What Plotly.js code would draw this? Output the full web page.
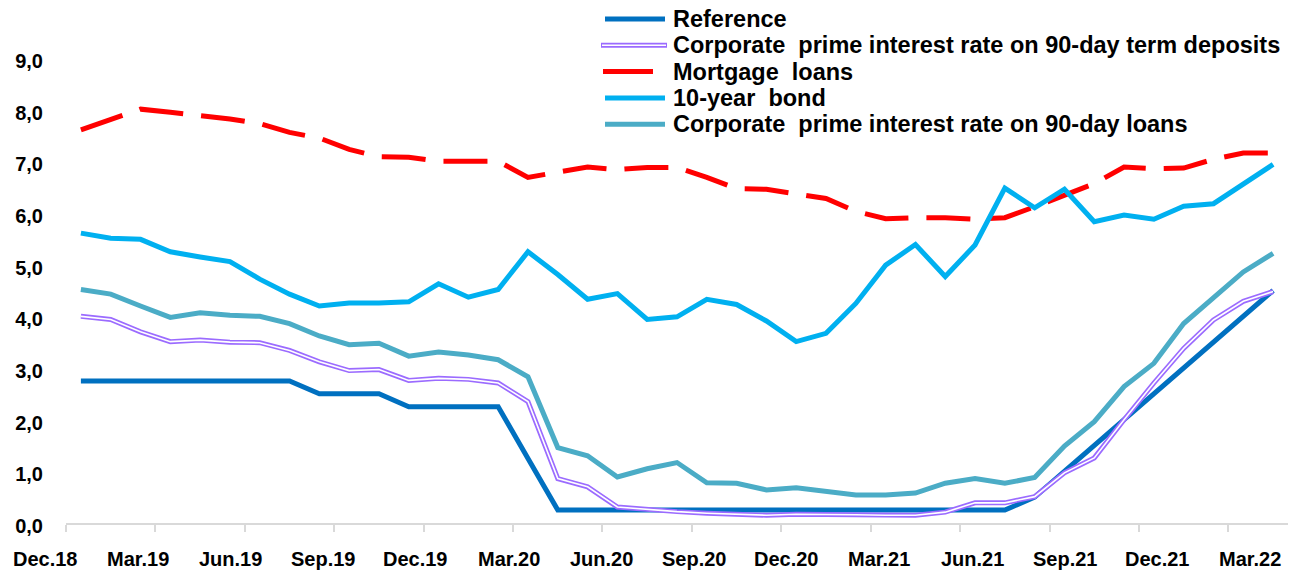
<!DOCTYPE html>
<html>
<head>
<meta charset="utf-8">
<script src="https://cdn.plot.ly/plotly-3.0.1.min.js"></script>
<style>
  html, body { margin: 0; padding: 0; background: #ffffff; }
  #chart { width: 1293px; height: 575px; }
</style>
</head>
<body>
<div id="chart"></div>
<script>
// Monthly observations, Dec.18 – Apr.22
const months = [
  "Dec.18", "Jan.19", "Feb.19", "Mar.19", "Apr.19", "May.19", "Jun.19", "Jul.19", "Aug.19", "Sep.19",
  "Oct.19", "Nov.19", "Dec.19", "Jan.20", "Feb.20", "Mar.20", "Apr.20", "May.20", "Jun.20", "Jul.20",
  "Aug.20", "Sep.20", "Oct.20", "Nov.20", "Dec.20", "Jan.21", "Feb.21", "Mar.21", "Apr.21", "May.21",
  "Jun.21", "Jul.21", "Aug.21", "Sep.21", "Oct.21", "Nov.21", "Dec.21", "Jan.22", "Feb.22", "Mar.22",
  "Apr.22"
];

const referenceRate = [
  2.75, 2.75, 2.75, 2.75, 2.75, 2.75, 2.75, 2.75, 2.50, 2.50,
  2.50, 2.25, 2.25, 2.25, 2.25, 1.25, 0.25, 0.25, 0.25, 0.25,
  0.25, 0.25, 0.25, 0.25, 0.25, 0.25, 0.25, 0.25, 0.25, 0.25,
  0.25, 0.25, 0.50, 1.00, 1.50, 2.00, 2.50, 3.00, 3.50, 4.00,
  4.50
];

const depositRate90d = [
  4.00, 3.94, 3.70, 3.51, 3.54, 3.50, 3.49, 3.34, 3.12, 2.95,
  2.97, 2.76, 2.80, 2.78, 2.71, 2.35, 0.86, 0.70, 0.31, 0.26,
  0.22, 0.19, 0.17, 0.15, 0.17, 0.17, 0.16, 0.15, 0.15, 0.21,
  0.39, 0.39, 0.51, 0.97, 1.26, 2.00, 2.71, 3.38, 3.93, 4.29,
  4.48
];

const mortgageRate = [
  7.61, 7.82, 8.01, 7.95, 7.89, 7.82, 7.73, 7.56, 7.45, 7.23,
  7.09, 7.08, 7.00, 7.00, 7.00, 6.69, 6.78, 6.89, 6.84, 6.88,
  6.88, 6.69, 6.47, 6.46, 6.37, 6.28, 6.03, 5.89, 5.91, 5.91,
  5.88, 5.91, 6.12, 6.35, 6.57, 6.89, 6.86, 6.87, 7.04, 7.16,
  7.16
];

const bond10y = [
  5.61, 5.51, 5.49, 5.25, 5.15, 5.06, 4.72, 4.43, 4.20, 4.26,
  4.26, 4.28, 4.63, 4.37, 4.52, 5.25, 4.81, 4.33, 4.44, 3.94,
  3.99, 4.33, 4.23, 3.91, 3.51, 3.67, 4.25, 4.99, 5.39, 4.77,
  5.38, 6.48, 6.10, 6.46, 5.83, 5.96, 5.88, 6.13, 6.18, 6.56,
  6.94
];

const loanRate90d = [
  4.52, 4.43, 4.20, 3.98, 4.07, 4.02, 4.00, 3.86, 3.62, 3.45,
  3.48, 3.23, 3.31, 3.25, 3.16, 2.83, 1.46, 1.30, 0.89, 1.05,
  1.17, 0.78, 0.77, 0.64, 0.68, 0.61, 0.54, 0.54, 0.58, 0.77,
  0.86, 0.77, 0.88, 1.49, 1.96, 2.64, 3.09, 3.86, 4.35, 4.86,
  5.22
];

const seriesNames = {
  reference: "Reference",
  deposits: "Corporate  prime interest rate on 90-day term deposits",
  mortgage: "Mortgage  loans",
  bond: "10-year  bond",
  loans: "Corporate  prime interest rate on 90-day loans"
};

// Quarterly labels shown under the axis
const tickLabels = months.filter((_, i) => i % 3 === 0);

const idx = months.map((_, i) => i);
const fontFamily = "Liberation Sans, Arial, Helvetica, sans-serif";

const styles = {
  reference: { color: "#0070C0", width: 5, dash: "solid" },
  deposits:  { color: "#9B6BFF", width: 5, dash: "solid", core: "#FFFFFF" },
  mortgage:  { color: "#FF0000", width: 5, dash: "44px,18px" },
  bond:      { color: "#00B0F0", width: 5, dash: "solid" },
  loans:     { color: "#4BACC6", width: 5, dash: "solid" }
};

function lineTrace(key, values, extra) {
  return Object.assign({
    x: idx, y: values, name: seriesNames[key],
    type: "scatter", mode: "lines", showlegend: false,
    line: { color: styles[key].color, width: styles[key].width, dash: styles[key].dash },
    text: months, hovertemplate: "%{text}: %{y:.2f}<extra>" + seriesNames[key] + "</extra>"
  }, extra || {});
}

const traces = [
  lineTrace("mortgage", mortgageRate),
  lineTrace("bond", bond10y),
  lineTrace("loans", loanRate90d),
  lineTrace("reference", referenceRate),
  lineTrace("deposits", depositRate90d),
  // white core that turns the deposit series into a double line
  lineTrace("deposits", depositRate90d, {
    line: { color: styles.deposits.core, width: 1.6 }, hoverinfo: "skip", hovertemplate: null
  })
];

// ---- page geometry helpers ----
const W = 1293, H = 575;
const M = { l: 66, r: 5, t: 58, b: 52 };
const plotW = W - M.l - M.r, plotH = H - M.t - M.b;
const px2x = (px) => (px - M.l) / plotW;
const py2y = (py) => (H - M.b - py) / plotH;
const nCat = months.length;

const shapes = [], annotations = [];

// ---- legend block at the top right ----
const legendOrder = ["reference", "deposits", "mortgage", "bond", "loans"];
const legendTop = 19, legendStep = 26.3;
legendOrder.forEach((key, k) => {
  const yy = py2y(legendTop + k * legendStep);
  const st = styles[key];
  if (key === "deposits") {
    shapes.push({ type: "line", xref: "paper", yref: "paper", x0: px2x(601), x1: px2x(667), y0: yy, y1: yy,
                  line: { color: st.color, width: 5 } });
    shapes.push({ type: "line", xref: "paper", yref: "paper", x0: px2x(602), x1: px2x(666), y0: yy, y1: yy,
                  line: { color: st.core, width: 1.6 } });
  } else if (key === "mortgage") {
    shapes.push({ type: "line", xref: "paper", yref: "paper", x0: px2x(603), x1: px2x(653), y0: yy, y1: yy,
                  line: { color: st.color, width: 5 } });
  } else {
    shapes.push({ type: "line", xref: "paper", yref: "paper", x0: px2x(605), x1: px2x(665), y0: yy, y1: yy,
                  line: { color: st.color, width: 5 } });
  }
  annotations.push({
    xref: "paper", yref: "paper", x: px2x(671), y: yy, xanchor: "left", yanchor: "middle",
    text: seriesNames[key], showarrow: false,
    font: { family: fontFamily, size: 23.5, color: "#000000", weight: 700 }
  });
});

// ---- quarterly labels under the category axis ----
const tickFont = { family: fontFamily, size: 20, color: "#000000", weight: 700 };
tickLabels.forEach((lab, k) => {
  const pos = -1.2 + 3.11 * k;            // label centre, in category units
  annotations.push({
    xref: "paper", yref: "paper",
    x: (pos + 0.5) / nCat, y: py2y(559),
    xanchor: "center", yanchor: "middle",
    text: lab, showarrow: false, font: tickFont
  });
});

const layout = {
  width: W,
  height: H,
  margin: M,
  paper_bgcolor: "#FFFFFF",
  plot_bgcolor: "#FFFFFF",
  separators: ",.",
  showlegend: false,
  shapes: shapes,
  annotations: annotations,
  xaxis: {
    range: [-0.5, 40.5],
    showgrid: false, zeroline: false,
    showline: true, linecolor: "#D9D9D9", linewidth: 1.5,
    tickmode: "array",
    tickvals: tickLabels.map((_, k) => 3 * k - 0.5),
    ticks: "outside", ticklen: 7, tickwidth: 1.5, tickcolor: "#D9D9D9",
    showticklabels: false,
    fixedrange: true
  },
  yaxis: {
    range: [0, 9],
    tickmode: "array",
    tickvals: [0, 1, 2, 3, 4, 5, 6, 7, 8, 9],
    tickformat: ".1f",
    showgrid: false, zeroline: false, showline: false,
    ticks: "", ticklabelstandoff: 22, ticklabelshift: 3,
    tickfont: tickFont,
    fixedrange: true
  }
};

Plotly.newPlot("chart", traces, layout, { displayModeBar: false });
</script>
</body>
</html>
